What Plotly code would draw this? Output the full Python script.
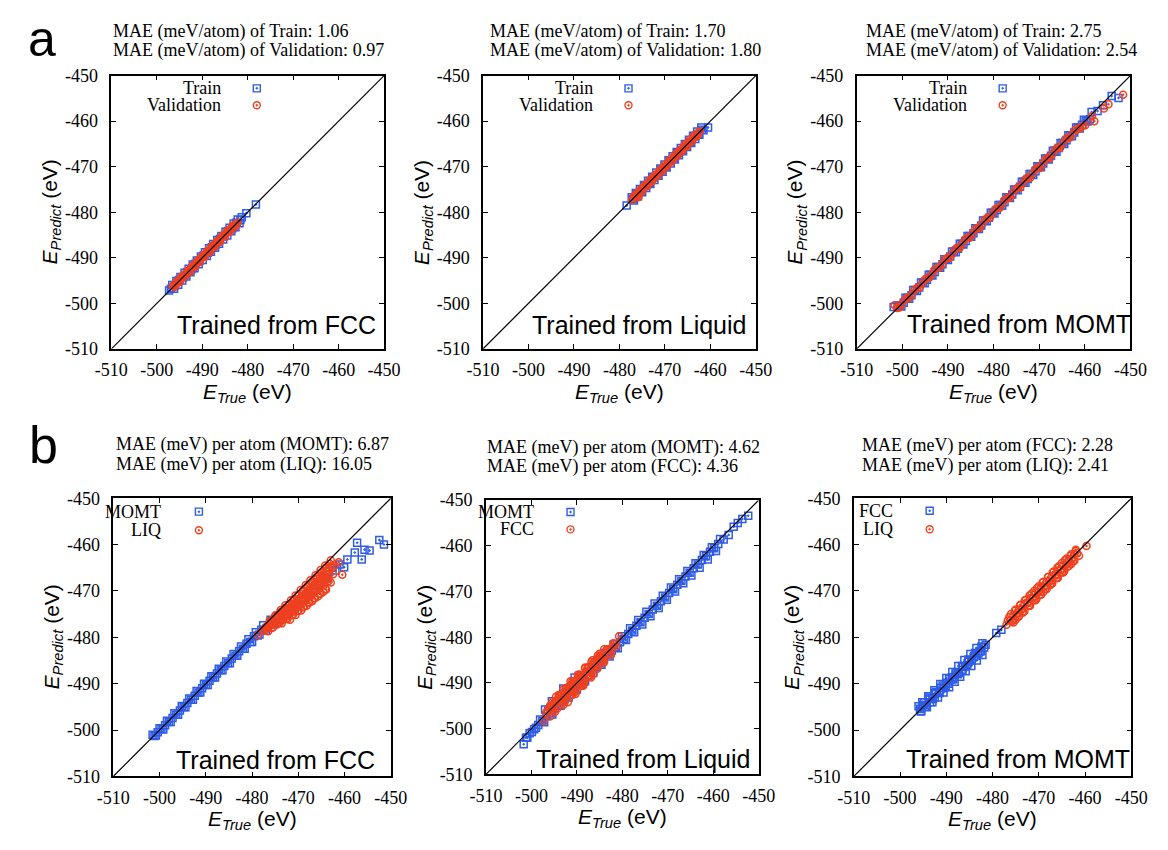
import plotly.graph_objects as go

# axis ticks
tick_vals = [-510, -500, -490, -480, -470, -460, -450]
tick_labels = ["-510", "-500", "-490", "-480", "-470", "-460", "-450"]
diag = [-510, -450]

# (a) trained from FCC
a1_train_true = [-497.3, -496.6, -496.2, -495.7, -495.3, -494.8, -494.4, -493.9, -493.5, -493.0, -492.6, -492.1, -491.7, -491.2, -490.8, -490.3, -489.9, -489.4, -489.0, -488.5, -488.1, -487.6, -487.2, -486.7, -486.3, -485.8, -485.4, -484.9, -484.5, -484.0, -483.6, -483.1, -482.7, -482.2, -481.8, -481.3, -480.3, -478.2,
                 -496.9, -496.0, -495.1, -494.2, -493.3, -492.4, -491.5, -490.6, -489.7, -488.8, -487.9, -487.0, -486.1, -485.2, -484.3, -483.4, -482.5, -481.6]
a1_train_pred = [-497.2, -496.0, -496.8, -495.1, -495.9, -494.2, -495.0, -493.3, -494.1, -492.4, -493.2, -491.5, -492.3, -490.6, -491.4, -489.7, -490.5, -488.8, -489.6, -487.9, -488.7, -487.0, -487.8, -486.1, -486.9, -485.2, -486.0, -484.3, -485.1, -483.4, -484.2, -482.5, -483.3, -481.6, -482.4, -481.1, -480.2, -478.3,
                 -496.8, -496.1, -494.9, -494.3, -493.1, -492.5, -491.3, -490.7, -489.5, -488.9, -487.7, -487.1, -485.9, -485.3, -484.1, -483.5, -482.3, -481.7]
a1_val_true = [-496.5, -496.0, -495.4, -494.9, -494.3, -493.8, -493.2, -492.7, -492.1, -491.6, -491.0, -490.5, -489.9, -489.4, -488.8, -488.3, -487.7, -487.2, -486.6, -486.1, -485.5, -485.0, -484.4, -483.9, -483.3, -482.8, -482.2,
               -496.2, -495.7, -495.1, -494.6, -494.0, -493.5, -492.9, -492.4, -491.8, -491.3, -490.7, -490.2, -489.6, -489.1, -488.5, -488.0, -487.4, -486.9, -486.3, -485.8, -485.2, -484.7, -484.1, -483.6, -483.0, -482.5]
a1_val_pred = [-496.2, -496.3, -495.0, -495.3, -493.9, -494.2, -492.8, -493.1, -491.7, -492.0, -490.6, -490.9, -489.5, -489.8, -488.4, -488.7, -487.3, -487.6, -486.2, -486.5, -485.1, -485.4, -484.0, -484.3, -482.9, -483.2, -482.3,
               -496.4, -495.4, -495.3, -494.3, -494.2, -493.2, -493.1, -492.1, -492.0, -491.0, -490.9, -489.9, -489.8, -488.8, -488.7, -487.7, -487.6, -486.6, -486.5, -485.5, -485.4, -484.4, -484.3, -483.3, -483.2, -482.4]

# (a) trained from Liquid
a2_train_true = [-478.4, -477.3, -476.8, -476.4, -475.9, -475.5, -475.0, -474.6, -474.1, -473.7, -473.2, -472.8, -472.3, -471.9, -471.4, -471.0, -470.5, -470.1, -469.6, -469.2, -468.7, -468.3, -467.8, -467.4, -466.9, -466.5, -466.0, -465.6, -465.1, -464.7, -464.2, -463.8, -463.3, -462.9, -462.4, -462.0, -461.5, -460.5,
                 -477.0, -476.1, -475.2, -474.3, -473.4, -472.5, -471.6, -470.7, -469.8, -468.9, -468.0, -467.1, -466.2, -465.3, -464.4, -463.5, -462.6, -461.8]
a2_train_pred = [-478.5, -476.7, -477.4, -475.8, -476.5, -474.9, -475.6, -474.0, -474.7, -473.1, -473.8, -472.2, -472.9, -471.3, -472.0, -470.4, -471.1, -469.5, -470.2, -468.6, -469.3, -467.7, -468.4, -466.8, -467.5, -465.9, -466.6, -465.0, -465.7, -464.1, -464.8, -463.2, -463.9, -462.3, -463.0, -461.4, -462.0, -461.4,
                 -477.1, -476.0, -475.4, -474.2, -473.6, -472.4, -471.8, -470.6, -470.0, -468.8, -468.2, -467.0, -466.4, -465.2, -464.6, -463.4, -462.8, -461.9]
a2_val_true = [-477.2, -476.6, -476.1, -475.5, -475.0, -474.4, -473.9, -473.3, -472.8, -472.2, -471.7, -471.1, -470.6, -470.0, -469.5, -468.9, -468.4, -467.8, -467.3, -466.7, -466.2, -465.6, -465.1, -464.5, -464.0, -463.4, -462.9, -462.3, -475.8,
               -476.9, -476.3, -475.8, -475.2, -474.7, -474.1, -473.6, -473.0, -472.5, -471.9, -471.4, -470.8, -470.3, -469.7, -469.2, -468.6, -468.1, -467.5, -467.0, -466.4, -465.9, -465.3, -464.8, -464.2, -463.7, -463.1, -462.6]
a2_val_pred = [-477.3, -476.2, -476.5, -475.1, -475.4, -474.0, -474.3, -472.9, -473.2, -471.8, -472.1, -470.7, -471.0, -469.6, -469.9, -468.5, -468.8, -467.4, -467.7, -466.3, -466.6, -465.2, -465.5, -464.1, -464.4, -463.0, -463.3, -462.2, -476.7,
               -476.7, -476.5, -475.6, -475.4, -474.5, -474.3, -473.4, -473.2, -472.3, -472.1, -471.2, -471.0, -470.1, -469.9, -469.0, -468.8, -467.9, -467.7, -466.8, -466.6, -465.7, -465.5, -464.6, -464.4, -463.5, -463.3, -462.5]

# (a) trained from MOMT
a3_train_true = [-501.9, -501.0, -500.2, -499.3, -498.5, -497.6, -496.8, -495.9, -495.1, -494.2, -493.4, -492.5, -491.7, -490.8, -490.0, -489.1, -488.3, -487.4, -486.6, -485.7, -484.9, -484.0, -483.2, -482.3, -481.5, -480.6, -479.8, -478.9, -478.1, -477.2, -476.4, -475.5, -474.7, -473.8, -473.0, -472.1, -471.3, -470.4, -469.6, -468.7, -467.9, -467.0, -466.2, -465.3, -464.5, -463.6, -462.8, -461.9, -461.1, -460.2, -459.4, -458.5, -457.2, -456.0, -454.1, -452.6,
                 -500.6, -499.7, -498.9, -498.0, -497.2, -496.3, -495.5, -494.6, -493.8, -492.9, -492.1, -491.2, -490.4, -489.5, -488.7, -487.8, -487.0, -486.1, -485.3, -484.4, -483.6, -482.7, -481.9, -481.0, -480.2, -479.3, -478.5, -477.6, -476.8, -475.9, -475.1, -474.2, -473.4, -472.5, -471.7, -470.8, -470.0, -469.1, -468.3, -467.4, -466.6, -465.7, -464.9, -464.0, -463.2, -462.3, -461.5, -460.6, -459.8, -458.9]
a3_train_pred = [-500.8, -500.5, -500.7, -498.8, -499.0, -497.1, -497.3, -495.4, -495.6, -493.7, -493.9, -492.0, -492.2, -490.3, -490.5, -488.6, -488.8, -486.9, -487.1, -485.2, -485.4, -483.5, -483.7, -481.8, -482.0, -480.1, -480.3, -478.4, -478.6, -476.7, -476.9, -475.0, -475.2, -473.3, -473.5, -471.6, -471.8, -469.9, -470.1, -468.2, -468.4, -466.5, -466.7, -464.8, -465.0, -463.1, -463.3, -461.4, -461.6, -459.7, -460.1, -458.0, -457.8, -456.5, -454.5, -454.9,
                 -500.5, -499.9, -498.8, -498.2, -497.1, -496.5, -495.4, -494.8, -493.7, -493.1, -492.0, -491.4, -490.3, -489.7, -488.6, -488.0, -486.9, -486.3, -485.2, -484.6, -483.5, -482.9, -481.8, -481.2, -480.1, -479.5, -478.4, -477.8, -476.7, -476.1, -475.0, -474.4, -473.3, -472.7, -471.6, -471.0, -469.9, -469.3, -468.2, -467.6, -466.5, -465.9, -464.8, -464.2, -463.1, -462.5, -461.4, -460.8, -459.9, -459.6]
a3_val_true = [-501.7, -500.6, -499.5, -498.4, -497.3, -496.2, -495.1, -494.0, -492.9, -491.8, -490.7, -489.6, -488.5, -487.4, -486.3, -485.2, -484.1, -483.0, -481.9, -480.8, -479.7, -478.6, -477.5, -476.4, -475.3, -474.2, -473.1, -472.0, -470.9, -469.8, -468.7, -467.6, -466.5, -465.4, -464.3, -463.2, -462.1, -461.0, -459.9, -458.4, -457.9, -455.8, -454.8, -451.6,
               -501.1, -500.0, -498.9, -497.8, -496.7, -495.6, -494.5, -493.4, -492.3, -491.2, -490.1, -489.0, -487.9, -486.8, -485.7, -484.6, -483.5, -482.4, -481.3, -480.2, -479.1, -478.0, -476.9, -475.8, -474.7, -473.6, -472.5, -471.4, -470.3, -469.2, -468.1, -467.0, -465.9, -464.8, -463.7, -462.6, -461.5, -460.4]
a3_val_pred = [-500.4, -500.9, -499.2, -498.7, -497.0, -496.5, -494.8, -494.3, -492.6, -492.1, -490.4, -490.0, -488.2, -487.8, -486.0, -485.6, -483.8, -483.4, -481.6, -481.2, -479.4, -479.0, -477.2, -476.8, -475.0, -474.6, -472.8, -472.5, -470.6, -470.3, -468.4, -468.1, -466.2, -465.9, -464.0, -463.6, -461.9, -461.5, -460.9, -458.9, -460.0, -457.2, -456.3, -454.2,
               -501.0, -500.1, -498.8, -497.9, -496.6, -495.7, -494.4, -493.5, -492.2, -491.3, -490.0, -489.1, -487.8, -486.9, -485.6, -484.7, -483.4, -482.5, -481.2, -480.3, -479.0, -478.1, -476.8, -475.9, -474.6, -473.7, -472.4, -471.5, -470.2, -469.3, -468.0, -467.1, -465.8, -464.9, -463.6, -462.7, -461.7, -461.0]

# (b) trained from FCC: MOMT and LIQ
b1_momt_true = [-501.5, -500.8, -500.0, -499.2, -498.4, -497.6, -496.8, -496.0, -495.2, -494.4, -493.6, -492.8, -492.0, -491.2, -490.4, -489.6, -488.8, -488.0, -487.2, -486.4, -485.6, -484.8, -484.0, -483.2, -482.4, -481.6, -480.8, -480.0, -479.2, -478.4, -477.6, -476.8, -476.0, -475.2, -474.4, -473.6, -472.5, -471.5, -470.2, -469.0, -467.8, -466.5, -465.5, -464.0, -462.6, -462.0, -461.1, -460.1, -459.4, -457.8, -457.3, -456.3, -455.7, -454.6, -452.5, -451.5,
                -501.1, -500.4, -499.6, -498.8, -498.0, -497.2, -496.4, -495.6, -494.8, -494.0, -493.2, -492.4, -491.6, -490.8, -490.0, -489.2, -488.4, -487.6, -486.8, -486.0, -485.2, -484.4, -483.6, -482.8, -482.0, -481.2, -480.4, -479.6, -478.8, -478.0, -477.0, -476.0, -474.8, -473.5, -472.0, -470.5, -468.5, -466.8, -465.0, -463.6]
b1_momt_pred = [-501.0, -501.2, -499.6, -499.9, -498.0, -498.3, -496.4, -496.7, -494.8, -495.1, -493.2, -493.5, -491.6, -491.9, -490.0, -490.3, -488.4, -488.7, -486.8, -487.1, -485.2, -485.6, -483.6, -484.0, -482.0, -482.5, -480.4, -481.0, -478.9, -479.4, -477.4, -478.0, -476.2, -477.2, -475.3, -476.0, -474.6, -473.8, -473.4, -471.6, -471.0, -469.5, -468.7, -467.0, -465.0, -465.6, -464.3, -464.9, -463.2, -461.7, -459.6, -463.2, -461.1, -461.3, -459.0, -460.0,
                -501.3, -500.5, -499.8, -499.0, -498.3, -497.4, -496.7, -495.8, -495.1, -494.2, -493.5, -492.6, -491.9, -491.0, -490.3, -489.4, -488.7, -487.8, -487.1, -486.2, -485.6, -484.6, -484.0, -483.0, -482.5, -481.4, -481.0, -479.8, -479.6, -478.4, -478.6, -476.8, -476.4, -475.4, -474.2, -473.0, -471.4, -469.6, -468.0, -467.4]
b1_liq_true = [-478.7, -477.6, -476.8, -476.2, -475.5, -475.0, -474.4, -473.8, -473.3, -472.8, -472.2, -471.6, -471.1, -470.6, -470.0, -469.5, -469.0, -468.4, -467.9, -467.4, -466.8, -466.3, -465.8, -465.2, -464.7, -464.2, -463.6, -463.0, -462.2, -461.3, -460.5,
               -475.8, -474.6, -473.4, -472.2, -471.0, -469.8, -468.6, -467.4, -466.2, -465.0, -463.8, -462.5,
               -474.0, -472.6, -471.4, -470.2, -469.0, -467.8, -466.6, -465.4, -464.2, -463.0,
               -472.9, -470.8, -468.4, -466.0, -464.4,
               -477.0, -476.0, -475.0, -474.0, -473.0, -472.0, -471.0, -470.0, -469.0, -468.0, -467.0, -466.0, -465.0, -464.0, -463.2,
               -476.5, -475.5, -474.5, -473.5, -472.5, -471.5, -470.5, -469.5, -468.5, -467.5, -466.5, -465.5, -464.5, -463.5,
               -471.8, -470.6, -469.4, -468.2, -467.0, -465.8, -464.6,
               -477.3, -476.3, -475.3, -474.3, -473.3, -472.3, -471.3, -470.3, -469.3, -468.3, -467.3, -466.3, -465.3, -464.3, -463.3,
               -475.9, -474.9, -473.9, -472.9, -471.9, -470.9, -469.9, -468.9, -467.9, -466.9, -465.9, -464.9, -463.9, -462.9,
               -473.6, -472.4, -471.2, -470.0, -468.8, -467.6, -466.4, -465.2, -464.0]
b1_liq_pred = [-479.5, -478.5, -477.6, -476.5, -477.2, -475.3, -476.0, -474.1, -475.1, -473.1, -473.8, -472.0, -472.9, -471.0, -471.9, -469.8, -471.0, -468.7, -469.9, -467.7, -468.9, -466.6, -467.9, -465.5, -466.8, -464.5, -465.8, -463.4, -464.5, -463.8, -466.5,
               -478.0, -477.2, -476.0, -475.0, -474.0, -472.8, -471.8, -470.8, -469.7, -468.6, -467.6, -466.4,
               -476.8, -476.0, -475.2, -474.4, -473.5, -472.6, -471.6, -470.6, -469.6, -468.2,
               -474.2, -472.6, -470.6, -468.4, -466.8,
               -478.0, -477.0, -476.0, -475.0, -474.0, -473.0, -472.0, -471.0, -470.0, -469.0, -468.0, -467.0, -466.0, -465.0, -464.2,
               -478.7, -477.9, -477.1, -476.3, -475.4, -474.6, -473.8, -472.9, -472.1, -471.3, -470.4, -469.6, -468.7, -467.9,
               -476.2, -475.2, -474.2, -473.2, -472.2, -471.2, -470.2,
               -478.6, -477.7, -476.8, -475.9, -475.0, -474.2, -473.3, -472.4, -471.6, -470.7, -469.8, -469.0, -468.1, -467.2, -466.3,
               -476.4, -475.5, -474.6, -473.7, -472.8, -471.9, -471.0, -470.1, -469.2, -468.3, -467.4, -466.5, -465.6, -464.7,
               -477.0, -476.1, -475.2, -474.3, -473.4, -472.5, -471.6, -470.6, -469.7]

# (b) trained from Liquid: MOMT and FCC
b2_momt_true = [-501.7, -500.9, -499.9, -499.0, -498.1, -497.2, -496.3, -495.4, -494.5, -493.6, -492.7, -491.8, -490.9, -490.0, -489.1, -488.2, -487.3, -486.4, -485.5, -484.6, -483.7, -482.8, -481.9, -481.0, -480.1, -479.2, -478.3, -477.4, -476.5, -475.6, -474.7, -473.8, -472.9, -472.0, -471.1, -470.2, -469.3, -468.4, -467.5, -466.6, -465.7, -464.8, -463.9, -463.0, -462.1, -461.2, -460.3, -459.4, -458.5, -457.7, -456.6, -455.5, -454.6, -453.6, -452.3, -497.0, -495.5, -493.0, -490.5,
                -501.2, -500.4, -499.4, -498.5, -497.6, -496.7, -495.8, -494.9, -494.0, -493.1, -492.2, -491.3, -490.4, -489.5, -488.6, -487.7, -486.8, -485.9, -485.0, -484.1, -483.2, -482.3, -481.4, -480.5, -479.6, -478.7, -477.8, -476.9, -476.0, -475.1, -474.2, -473.3, -472.4, -471.5, -470.6, -469.7, -468.8, -467.9, -467.0, -466.1, -465.2, -464.3, -463.4, -462.5, -461.6, -460.7, -459.8, -458.9]
b2_momt_pred = [-503.4, -502.0, -500.7, -499.8, -498.0, -498.6, -496.0, -496.9, -494.1, -495.0, -492.3, -493.2, -490.5, -491.4, -488.7, -489.6, -486.9, -487.8, -485.1, -486.0, -483.4, -484.2, -481.6, -482.4, -479.8, -480.6, -478.0, -478.9, -476.2, -477.2, -474.4, -475.4, -472.6, -473.6, -470.9, -471.8, -469.1, -470.0, -467.3, -468.2, -465.5, -466.5, -463.8, -464.8, -462.0, -463.0, -460.3, -461.1, -458.5, -458.6, -457.6, -455.8, -455.0, -454.1, -453.4, -495.8, -494.0, -491.2, -488.8,
                -502.0, -501.0, -500.1, -499.2, -498.3, -497.3, -496.5, -495.5, -494.7, -493.7, -492.9, -491.9, -491.1, -490.1, -489.3, -488.3, -487.5, -486.5, -485.7, -484.7, -483.9, -482.9, -482.1, -481.1, -480.3, -479.3, -478.5, -477.5, -476.7, -475.7, -474.9, -473.9, -473.1, -472.1, -471.3, -470.3, -469.5, -468.5, -467.7, -466.7, -465.9, -464.9, -464.1, -463.1, -462.3, -461.3, -460.5, -459.6]
b2_fcc_true = [-497.3, -496.5, -495.8, -495.0, -494.3, -493.6, -492.8, -492.1, -491.4, -490.6, -489.9, -489.2, -488.4, -487.7, -487.0, -486.2, -485.5, -484.8, -484.0, -483.3, -482.5, -481.7, -480.7,
               -495.9, -494.8, -493.8, -492.7, -491.6, -490.5, -489.5, -488.5, -487.4, -486.3, -485.2, -484.2, -483.1,
               -493.0, -491.0, -489.0, -487.0,
               -496.8, -496.0, -495.2, -494.4, -493.6, -492.8, -492.0, -491.2, -490.4, -489.6, -488.8, -488.0, -487.2, -486.4, -485.6, -484.8, -484.0, -483.2, -482.4,
               -495.4, -494.0, -492.5, -491.0, -489.6, -488.2, -486.8, -485.4, -484.0,
               -496.0, -495.3, -494.6, -493.9, -493.2, -492.5, -491.8, -491.1, -490.4, -489.7, -489.0, -488.3, -487.6, -486.9, -486.2, -485.5, -484.8, -484.1, -483.4, -482.7, -482.0, -481.3,
               -494.6, -493.0, -491.4, -489.8, -488.2, -486.6, -485.0,
               -492.0, -490.3, -488.6, -486.9]
b2_fcc_pred = [-498.3, -496.0, -497.3, -494.3, -495.6, -492.6, -494.0, -491.0, -492.6, -489.6, -491.3, -488.2, -489.8, -486.8, -488.4, -485.4, -486.9, -484.0, -485.4, -482.6, -483.9, -481.4, -479.8,
               -495.0, -496.3, -492.8, -494.2, -490.7, -492.0, -488.6, -490.2, -486.5, -488.0, -484.4, -485.6, -482.6,
               -494.8, -492.6, -490.6, -488.4,
               -496.6, -495.6, -495.2, -494.0, -493.8, -492.4, -492.2, -490.8, -490.6, -489.2, -489.0, -487.6, -487.4, -486.0, -485.8, -484.4, -484.2, -482.8, -482.6,
               -494.2, -492.6, -491.2, -489.6, -488.2, -486.8, -485.4, -484.0, -482.6,
               -495.3, -496.1, -493.9, -494.7, -492.5, -493.3, -491.1, -491.9, -489.7, -490.5, -488.3, -489.1, -486.9, -487.7, -485.5, -486.3, -484.1, -484.9, -482.7, -483.5, -481.3, -482.0,
               -493.0, -491.4, -489.6, -488.2, -486.6, -485.0, -483.6,
               -494.2, -492.4, -490.6, -488.8]

# (b) trained from MOMT: FCC and LIQ
b3_fcc_true = [-496.0, -495.4, -494.8, -494.2, -493.6, -493.0, -492.4, -491.8, -491.2, -490.6, -490.0, -489.4, -488.8, -488.2, -487.6, -487.0, -486.4, -485.8, -485.2, -484.6, -484.0, -483.4, -482.8, -482.2, -481.5, -479.2, -478.1,
               -495.2, -493.9, -492.6, -491.3, -490.0, -488.7, -487.4, -486.1, -484.8, -483.5, -482.2,
               -495.7, -495.0, -494.3, -493.6, -492.9, -492.2, -491.5, -490.8, -490.1, -489.4, -488.7, -488.0, -487.3, -486.6, -485.9, -485.2, -484.5, -483.8, -483.1, -482.4, -481.8,
               -495.5, -494.5, -493.5, -492.5, -491.5, -490.5, -489.5, -488.5, -487.5, -486.5, -485.5, -484.5, -483.5, -482.5]
b3_fcc_pred = [-494.9, -495.9, -494.0, -495.1, -493.0, -494.0, -492.0, -493.0, -490.9, -491.9, -489.8, -490.8, -488.6, -489.6, -487.5, -488.5, -486.4, -487.3, -485.3, -486.2, -484.1, -485.0, -483.0, -483.8, -481.6, -479.1, -478.4,
               -494.0, -492.7, -491.4, -490.1, -488.8, -487.5, -486.2, -484.9, -483.6, -482.3, -481.3,
               -495.4, -494.6, -494.6, -493.2, -493.3, -491.8, -491.9, -490.4, -490.5, -489.0, -489.1, -487.6, -487.7, -486.2, -486.3, -484.8, -484.9, -483.4, -483.5, -482.0, -482.2,
               -496.0, -495.0, -494.0, -493.0, -492.0, -491.0, -490.0, -489.0, -488.0, -487.0, -486.0, -485.0, -484.0, -483.0]
b3_liq_true = [-477.0, -476.4, -475.8, -475.2, -474.6, -474.0, -473.4, -472.8, -472.2, -471.6, -471.0, -470.4, -469.8, -469.2, -468.6, -468.0, -467.4, -466.8, -466.2, -465.6, -465.0, -464.4, -463.8, -463.2, -462.6, -462.0, -461.3, -459.7,
               -475.5, -474.3, -473.1, -471.9, -470.7, -469.5, -468.3, -467.1, -465.9, -464.7, -463.5, -462.3,
               -476.7, -476.1, -475.5, -474.9, -474.3, -473.7, -473.1, -472.5, -471.9, -471.3, -470.7, -470.1, -469.5, -468.9, -468.3, -467.7, -467.1, -466.5, -465.9, -465.3, -464.7, -464.1, -463.5, -462.9, -462.3, -461.7,
               -476.0, -475.0, -474.0, -473.0, -472.0, -471.0, -470.0, -469.0, -468.0, -467.0, -466.0, -465.0, -464.0, -463.0, -462.0,
               -475.0, -473.5, -472.0, -470.5, -469.0, -467.5, -466.0, -464.5, -463.0]
b3_liq_pred = [-477.3, -475.6, -476.6, -474.3, -475.6, -473.1, -474.5, -471.9, -473.2, -470.6, -472.0, -469.4, -470.8, -468.2, -469.6, -467.0, -468.4, -465.8, -467.2, -464.6, -466.0, -463.4, -464.8, -462.4, -463.6, -461.4, -462.4, -460.3,
               -476.8, -475.5, -474.4, -473.2, -472.0, -470.8, -469.6, -468.4, -467.2, -466.0, -464.6, -463.5,
               -476.4, -476.3, -475.2, -475.1, -474.0, -473.9, -472.8, -472.7, -471.6, -471.5, -470.4, -470.3, -469.2, -469.1, -468.0, -467.9, -466.8, -466.7, -465.6, -465.5, -464.4, -464.3, -463.2, -463.1, -462.0, -461.9,
               -475.0, -474.0, -473.0, -472.0, -471.0, -470.0, -469.0, -468.0, -467.0, -466.0, -465.0, -464.0, -463.0, -462.1, -461.1,
               -476.2, -474.7, -473.2, -471.7, -470.2, -468.7, -467.2, -465.7, -464.2]

names = [("Train", "Validation")] * 3 + [("MOMT", "LIQ"), ("MOMT", "FCC"), ("FCC", "LIQ")]
mae_lines = [
    ("MAE (meV/atom) of Train: 1.06", "MAE (meV/atom) of Validation: 0.97"),
    ("MAE (meV/atom) of Train: 1.70", "MAE (meV/atom) of Validation: 1.80"),
    ("MAE (meV/atom) of Train: 2.75", "MAE (meV/atom) of Validation: 2.54"),
    ("MAE (meV) per atom (MOMT): 6.87", "MAE (meV) per atom (LIQ): 16.05"),
    ("MAE (meV) per atom (MOMT): 4.62", "MAE (meV) per atom (FCC): 4.36"),
    ("MAE (meV) per atom (FCC): 2.28", "MAE (meV) per atom (LIQ): 2.41"),
]
trained_from = ["Trained from FCC", "Trained from Liquid", "Trained from MOMT",
                "Trained from FCC", "Trained from Liquid", "Trained from MOMT"]

series = [
    (a1_train_true, a1_train_pred, a1_val_true, a1_val_pred),
    (a2_train_true, a2_train_pred, a2_val_true, a2_val_pred),
    (a3_train_true, a3_train_pred, a3_val_true, a3_val_pred),
    (b1_momt_true, b1_momt_pred, b1_liq_true, b1_liq_pred),
    (b2_momt_true, b2_momt_pred, b2_fcc_true, b2_fcc_pred),
    (b3_fcc_true, b3_fcc_pred, b3_liq_true, b3_liq_pred),
]

# page body keeps an 8px margin, so the figure is 16px smaller than the window
W, H = 1168, 850
OFF = 8
FW, FH = W - 2 * OFF, H - 2 * OFF

# plot boxes in window pixels: left, right, top, bottom
boxes = [(97, 378, 67, 347), (480, 761, 67, 347), (865, 1147, 67, 347),
         (99, 385, 500, 785), (483, 764, 502, 783), (862, 1148, 500, 785)]
# legend: text right edge, marker x, row1 y, row2 y (axis units)
keys = [(-485.4, -478.0, -452.8, -456.5)] * 3 + [(-499.3, -491.5, -452.9, -456.9),
                                                 (-498.9, -491.4, -452.6, -456.4),
                                                 (-501.0, -493.6, -452.7, -456.7)]
# "Trained from" label: left px, center y px
tf_pos = [(163, 323), (528, 323), (915, 322), (162, 768), (532, 767), (914, 767)]
# MAE text: left px, line1 y, line2 y
mae_pos = [(97, 22, 41), (485, 22, 41), (872, 22, 41), (100, 445, 465), (482, 448, 468), (868, 446, 466)]

BLUE = "#2f5ce6"
RED = "#f0401e"
serif = "Liberation Serif"
sans = "Liberation Sans"


def px(x):
    return (x - OFF) / FW


def py(y):
    return 1 - (y - OFF) / FH


fig = go.Figure()
annotations = []

for i in range(6):
    xa = "x" if i == 0 else f"x{i+1}"
    ya = "y" if i == 0 else f"y{i+1}"
    t1, p1, t2, p2 = series[i]
    n1, n2 = names[i]
    fig.add_trace(go.Scatter(x=t1, y=p1, mode="markers", xaxis=xa, yaxis=ya, showlegend=False,
                             marker=dict(symbol="square-open-dot", size=7, color=BLUE, line=dict(width=1.5, color=BLUE))))
    fig.add_trace(go.Scatter(x=t2, y=p2, mode="markers", xaxis=xa, yaxis=ya, showlegend=False,
                             marker=dict(symbol="circle-open-dot", size=7, color=RED, line=dict(width=1.5, color=RED))))
    fig.add_trace(go.Scatter(x=diag, y=diag, mode="lines", xaxis=xa, yaxis=ya, showlegend=False,
                             line=dict(color="black", width=1.2)))

    # legend keys (gnuplot style: text then symbol)
    kx_text, kx_mark, ky1, ky2 = keys[i]
    fig.add_trace(go.Scatter(x=[kx_mark], y=[ky1], mode="markers", xaxis=xa, yaxis=ya, showlegend=False,
                             marker=dict(symbol="square-open-dot", size=7, color=BLUE, line=dict(width=1.4, color=BLUE))))
    fig.add_trace(go.Scatter(x=[kx_mark], y=[ky2], mode="markers", xaxis=xa, yaxis=ya, showlegend=False,
                             marker=dict(symbol="circle-open-dot", size=7, color=RED, line=dict(width=1.4, color=RED))))
    for txt, ky in ((n1, ky1), (n2, ky2)):
        annotations.append(dict(x=kx_text, y=ky, xref=xa, yref=ya, text=txt, showarrow=False,
                                xanchor="right", yanchor="middle",
                                font=dict(family=serif, size=18, color="black")))

    l, r, t, b = boxes[i]
    axis_common = dict(range=[-510, -450], tickvals=tick_vals, ticktext=tick_labels,
                       ticks="inside", ticklen=5, tickwidth=1, tickcolor="black",
                       showline=True, linecolor="black", linewidth=1.5, mirror="allticks",
                       showgrid=False, zeroline=False,
                       tickfont=dict(family=serif, size=18, color="black"))
    fig.update_layout(**{
        ("xaxis" if i == 0 else f"xaxis{i+1}"): dict(axis_common, domain=[px(l), px(r)], anchor=ya,
                                                      ticklabelstandoff=4),
        ("yaxis" if i == 0 else f"yaxis{i+1}"): dict(axis_common, domain=[py(b), py(t)], anchor=xa,
                                                      ticklabelstandoff=8),
    })

    # axis titles
    annotations.append(dict(x=px((l + r) / 2), y=py(b + 45), xref="paper", yref="paper",
                            text="<i>E</i><sub><i>True</i></sub> (eV)", showarrow=False,
                            xanchor="center", yanchor="middle",
                            font=dict(family=sans, size=21, color="black")))
    annotations.append(dict(x=px(l - 62), y=py((t + b) / 2), xref="paper", yref="paper",
                            text="<i>E</i><sub><i>Predict</i></sub> (eV)", showarrow=False, textangle=-90,
                            xanchor="center", yanchor="middle",
                            font=dict(family=sans, size=21, color="black")))

    # "Trained from ..." label
    tx, ty = tf_pos[i]
    annotations.append(dict(x=px(tx), y=py(ty), xref="paper", yref="paper", text=trained_from[i],
                            showarrow=False, xanchor="left", yanchor="middle",
                            font=dict(family=sans, size=25, color="black")))

    # MAE text above panel
    mx, my1, my2 = mae_pos[i]
    for txt, my in ((mae_lines[i][0], my1), (mae_lines[i][1], my2)):
        annotations.append(dict(x=px(mx), y=py(my), xref="paper", yref="paper", text=txt,
                                showarrow=False, xanchor="left", yanchor="middle",
                                font=dict(family=serif, size=18, color="black")))

# panel letters
annotations.append(dict(x=px(26), y=py(30), xref="paper", yref="paper", text="a", showarrow=False,
                        xanchor="center", yanchor="middle", font=dict(family=sans, size=50, color="black")))
annotations.append(dict(x=px(27), y=py(446), xref="paper", yref="paper", text="b", showarrow=False,
                        xanchor="center", yanchor="middle", font=dict(family=sans, size=52, color="black")))

fig.update_layout(width=FW, height=FH, margin=dict(l=0, r=0, t=0, b=0),
                  plot_bgcolor="white", paper_bgcolor="white",
                  annotations=annotations, showlegend=False)

fig.write_html("out.html")
